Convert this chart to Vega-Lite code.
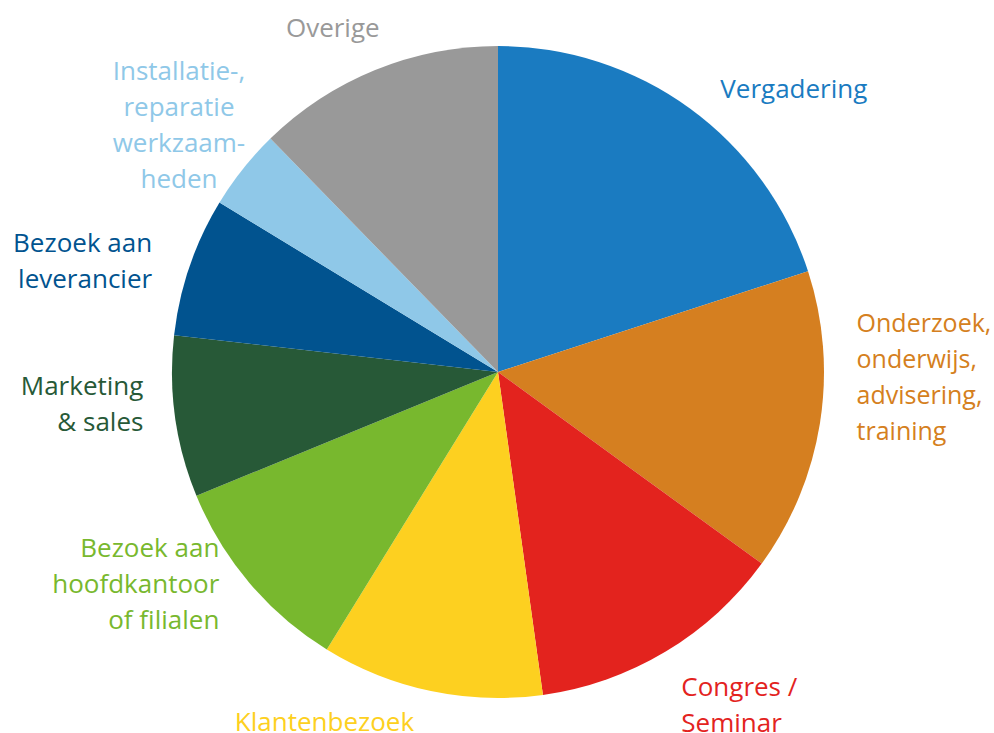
{
  "$schema": "https://vega.github.io/schema/vega-lite/v6.json",
  "width": 992,
  "height": 722,
  "autosize": {"type": "none"},
  "padding": {"left": 2, "top": 11, "right": 0, "bottom": 0},
  "background": "white",
  "config": {"view": {"stroke": null}, "text": {"font": "Open Sans", "fontSize": 26, "lineHeight": 36, "baseline": "middle", "lineBreak": "\n"}},
  "data": {"values": [
    {"n": 1, "cat": "Vergadering", "label": "Vergadering", "share": 20},
    {"n": 2, "cat": "Onderzoek", "label": "Onderzoek,\nonderwijs,\nadvisering,\ntraining", "share": 15},
    {"n": 3, "cat": "Congres", "label": "Congres /\nSeminar", "share": 12.8},
    {"n": 4, "cat": "Klantenbezoek", "label": "Klantenbezoek", "share": 11},
    {"n": 5, "cat": "Hoofdkantoor", "label": "Bezoek aan\nhoofdkantoor\nof filialen", "share": 10},
    {"n": 6, "cat": "Marketing", "label": "Marketing\n& sales", "share": 8},
    {"n": 7, "cat": "Leverancier", "label": "Bezoek aan\nleverancier", "share": 6.9},
    {"n": 8, "cat": "Installatie", "label": "Installatie-,\nreparatie\nwerkzaam-\nheden", "share": 4},
    {"n": 9, "cat": "Overige", "label": "Overige", "share": 12.3}
  ]},
  "transform": [
    {"stack": "share", "groupby": [], "sort": [{"field": "n", "order": "ascending"}], "as": ["a0", "a1"]},
    {"calculate": "(datum.a0 + datum.a1) / 2", "as": "mid"}
  ],
  "encoding": {
    "color": {"field": "cat", "type": "nominal", "legend": null,
      "scale": {"domain": ["Vergadering", "Onderzoek", "Congres", "Klantenbezoek", "Hoofdkantoor", "Marketing", "Leverancier", "Installatie", "Overige"],
                "range": ["#1a7bc1", "#d57f20", "#e3231e", "#fdd020", "#78b82e", "#275937", "#01538f", "#8fc8e8", "#999999"]}}
  },
  "layer": [
    {
      "mark": {"type": "arc", "outerRadius": 326},
      "encoding": {
        "theta": {"field": "a0", "type": "quantitative", "scale": {"domain": [0, 100], "range": [0, 6.283185307]}},
        "theta2": {"field": "a1"}
      }
    },
    {
      "transform": [{"filter": {"field": "cat", "equal": "Vergadering"}}],
      "mark": {"type": "text", "radius": 368, "align": "left", "dx": 6, "dy": 16},
      "encoding": {"theta": {"field": "mid", "type": "quantitative", "scale": {"domain": [0, 100], "range": [0, 6.283185307]}}, "text": {"field": "label"}}
    },
    {
      "transform": [{"filter": {"field": "cat", "equal": "Onderzoek"}}],
      "mark": {"type": "text", "radius": 360, "align": "left", "dx": 3, "dy": -104, "fontSize": 25},
      "encoding": {"theta": {"field": "mid", "type": "quantitative", "scale": {"domain": [0, 100], "range": [0, 6.283185307]}}, "text": {"field": "label"}}
    },
    {
      "transform": [{"filter": {"field": "cat", "equal": "Congres"}}],
      "mark": {"type": "text", "radius": 368, "align": "left", "dx": -6, "dy": 0},
      "encoding": {"theta": {"field": "mid", "type": "quantitative", "scale": {"domain": [0, 100], "range": [0, 6.283185307]}}, "text": {"field": "label"}}
    },
    {
      "transform": [{"filter": {"field": "cat", "equal": "Klantenbezoek"}}],
      "mark": {"type": "text", "radius": 362, "align": "center", "dx": -99, "dy": -3},
      "encoding": {"theta": {"field": "mid", "type": "quantitative", "scale": {"domain": [0, 100], "range": [0, 6.283185307]}}, "text": {"field": "label"}}
    },
    {
      "transform": [{"filter": {"field": "cat", "equal": "Hoofdkantoor"}}],
      "mark": {"type": "text", "radius": 355, "align": "right", "dx": -8, "dy": -53},
      "encoding": {"theta": {"field": "mid", "type": "quantitative", "scale": {"domain": [0, 100], "range": [0, 6.283185307]}}, "text": {"field": "label"}}
    },
    {
      "transform": [{"filter": {"field": "cat", "equal": "Marketing"}}],
      "mark": {"type": "text", "radius": 355, "align": "right", "dx": -3, "dy": -34},
      "encoding": {"theta": {"field": "mid", "type": "quantitative", "scale": {"domain": [0, 100], "range": [0, 6.283185307]}}, "text": {"field": "label"}}
    },
    {
      "transform": [{"filter": {"field": "cat", "equal": "Leverancier"}}],
      "mark": {"type": "text", "radius": 355, "align": "right", "dx": -10, "dy": -13},
      "encoding": {"theta": {"field": "mid", "type": "quantitative", "scale": {"domain": [0, 100], "range": [0, 6.283185307]}}, "text": {"field": "label"}}
    },
    {
      "transform": [{"filter": {"field": "cat", "equal": "Installatie"}}],
      "mark": {"type": "text", "radius": 395, "align": "center", "dx": -10, "dy": -54},
      "encoding": {"theta": {"field": "mid", "type": "quantitative", "scale": {"domain": [0, 100], "range": [0, 6.283185307]}}, "text": {"field": "label"}}
    },
    {
      "transform": [{"filter": {"field": "cat", "equal": "Overige"}}],
      "mark": {"type": "text", "radius": 380, "align": "center", "dx": -22, "dy": 9},
      "encoding": {"theta": {"field": "mid", "type": "quantitative", "scale": {"domain": [0, 100], "range": [0, 6.283185307]}}, "text": {"field": "label"}}
    }
  ]
}
